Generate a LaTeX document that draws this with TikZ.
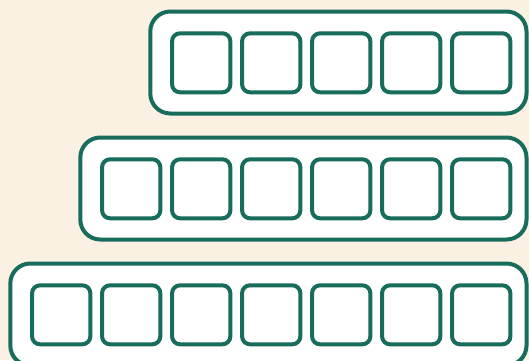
\documentclass[tikz,border=0pt]{standalone}
\usepackage{xcolor}
\usepackage{tikz}
\usetikzlibrary{positioning}
\definecolor{traygreen}{RGB}{24,108,92}
\definecolor{paper}{RGB}{250,241,226}

\begin{document}
\begin{tikzpicture}[x=1pt, y=-1pt,
    tray/.style={draw=traygreen, line width=4pt, fill=white, rounded corners=20pt, minimum height=102pt, inner sep=0pt},
    cell/.style={draw=traygreen, line width=4pt, fill=white, rounded corners=8pt, minimum width=58.3pt, minimum height=59pt, inner sep=0pt}]
    \fill[paper] (0,0) rectangle (529,360);
    \useasboundingbox (0,0) rectangle (529,360);
    \clip (0,0) rectangle (529,360);
    \foreach \k in {0,1,2} {
      \node[tray, minimum width={376.2pt+\k*70pt}] (tray\k) at ({338.4-35*\k}, {62.5+126*\k}) {};
      \pgfmathtruncatemacro\first{2-\k}
      \foreach \j in {\first,...,6}
        \node[cell] (cell\k-\j) at ({61.2+70*\j}, {62.8+126*\k}) {};
    }
  \end{tikzpicture}
\end{document}
